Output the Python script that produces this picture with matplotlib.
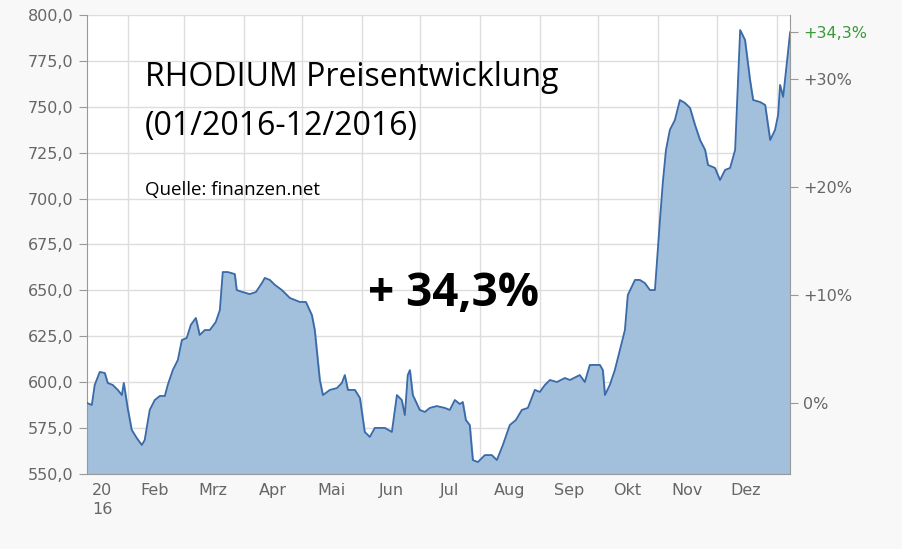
import matplotlib
matplotlib.use("Agg")
import matplotlib.pyplot as plt
import numpy as np

days = [11,13.5,15,17.6,20.2,21.7,24.3,26.9,29,30,32,34.1,36.7,39.3,40.8,43.4,46,48.6,51.2,52.7,55.3,57.9,60,62.5,64.6,67.2,69.2,71.8,74.4,77.5,79.6,81.1,83.7,87.3,88.3,91.4,95,98.2,101.3,102.8,105.4,108,111.6,115.7,120.9,124,127.1,128.6,131.2,132.8,136.4,140,142.6,144.1,145.7,149.3,151.9,154.4,157,159.6,162.2,164.8,168.4,171,173.5,175.1,176.6,177.7,179.2,182.8,185.4,188,191.6,195.7,198.3,200.9,203.5,205,206.6,208.6,210.2,212.8,216.4,220,222.6,225.7,229.3,232.4,235.5,238.6,242.2,244.8,247.4,250,253.6,257.7,260.3,265.4,268,270.6,275.8,277.3,278.4,280.9,283.5,286.1,288.7,290.2,293.9,296.4,299,301.6,304.2,306.8,308.3,309.9,311.9,314.5,317.1,319.7,322.3,324.9,327.5,330.1,331.6,335.2,337.8,340.4,343,345.6,347.1,348.2,350.7,353.3,354.9,358.5,361.1,363.7,366.2,367.8,368.8,370.4,371.9,374]
prices = [588.7,587.6,598.5,605.6,605.0,599.6,598.5,595.8,593.0,599.6,586.0,574.0,569.6,565.8,568.5,584.9,590.3,592.5,592.5,598.5,606.6,612.1,623.0,624.1,631.2,635.0,625.7,628.4,628.4,632.8,639.3,660.0,660.0,658.9,650.2,649.1,648.0,649.1,654.0,656.8,655.7,653.0,650.2,645.9,643.7,643.7,636.6,628.4,601.2,593.0,595.8,596.8,599.6,603.9,595.8,595.8,591.4,572.9,570.2,575.1,575.1,575.1,572.9,593.0,590.3,582.1,603.9,606.6,593.0,584.9,583.8,586.0,587.0,586.0,584.9,590.3,588.1,589.2,579.4,576.7,557.6,556.5,560.3,560.3,557.6,565.8,576.7,579.4,584.9,586.0,595.8,594.7,598.5,601.2,600.1,602.3,601.2,603.9,600.1,609.4,609.4,606.6,593.0,598.5,606.6,617.5,628.4,647.5,655.7,655.7,654.0,650.2,650.2,688.4,709.1,726.5,737.4,742.8,753.7,752.1,749.4,740.1,731.9,726.5,718.3,716.7,710.1,715.6,716.7,726.5,764.6,791.8,786.4,764.6,753.7,752.6,751.0,731.9,737.4,745.6,761.9,755.4,770.1,790.6]
month_starts = [32,61,92,122,153,183,214,245,275,306,336,367]
month_labels = ["20\n16","Feb","Mrz","Apr","Mai","Jun","Jul","Aug","Sep","Okt","Nov","Dez"]
month_label_pos = [19,46,76,107,137,168,198,229,260,290,321,351]
y_ticks = [550,575,600,625,650,675,700,725,750,775,800]
pct_ticks = [0,10,20,30]
final_pct = 34.3

base = prices[-1]/(1+final_pct/100)
fig = plt.figure(figsize=(9.03,5.49), dpi=100, facecolor="#f8f8f8")
ax = fig.add_axes([0.0963,0.1366,0.7787,0.8361])
ax.set_facecolor("white")
ax.set_xlim(days[0], days[-1]); ax.set_ylim(550,800)
ax.fill_between(days, prices, 550, color="#a2bfdc", zorder=2)
ax.plot(days, prices, color="#3a6aa8", lw=1.3, zorder=3)
ax.set_yticks(y_ticks)
ax.set_yticklabels([f"{v:.1f}".replace(".",",") for v in y_ticks])
ax.set_xticks(month_starts, minor=False)
ax.set_xticklabels([])
ax.grid(True, color="#dddddd", lw=1, zorder=1)
ax.set_axisbelow(True)
for s in ["top","right"]: ax.spines[s].set_visible(False)
ax.spines["left"].set_color("#999999"); ax.spines["bottom"].set_color("#999999")
ax.tick_params(axis="y", colors="#999999", labelcolor="#666666", labelsize=11.5, length=6)
ax.tick_params(axis="x", length=0)
for p,l in zip(month_label_pos, month_labels):
    ax.text(p, 545, l, ha="center", va="top", fontsize=11.5, color="#666666", linespacing=1.3)
ax2 = ax.twinx()
ax2.set_ylim((550/base-1)*100, (800/base-1)*100)
ax2.set_xlim(ax.get_xlim())
ticks2 = pct_ticks+[final_pct]
ax2.set_yticks(ticks2)
ax2.set_yticklabels(["0%" if t==0 else f"+{t:g}%".replace(".",",") for t in ticks2])
ax2.tick_params(colors="#999999", labelcolor="#666666", labelsize=11.5, length=6)
ax2.get_yticklabels()[-1].set_color("#3a9a3a")
for s in ["top","left","bottom"]: ax2.spines[s].set_visible(False)
ax2.spines["right"].set_color("#999999")
fig.text(145/903, 1-78/549, "RHODIUM Preisentwicklung", fontsize=23, family="Open Sans", va="center")
fig.text(145/903, 1-126/549, "(01/2016-12/2016)", fontsize=23, family="Open Sans", va="center")
fig.text(145/903, 1-190/549, "Quelle: finanzen.net", fontsize=13.5, family="Open Sans", va="center")
fig.text(368/903, 1-293/549, "+ 34,3%", fontsize=33, family="Open Sans", weight="bold", va="center")
fig.savefig("out.png", dpi=100, facecolor=fig.get_facecolor())
